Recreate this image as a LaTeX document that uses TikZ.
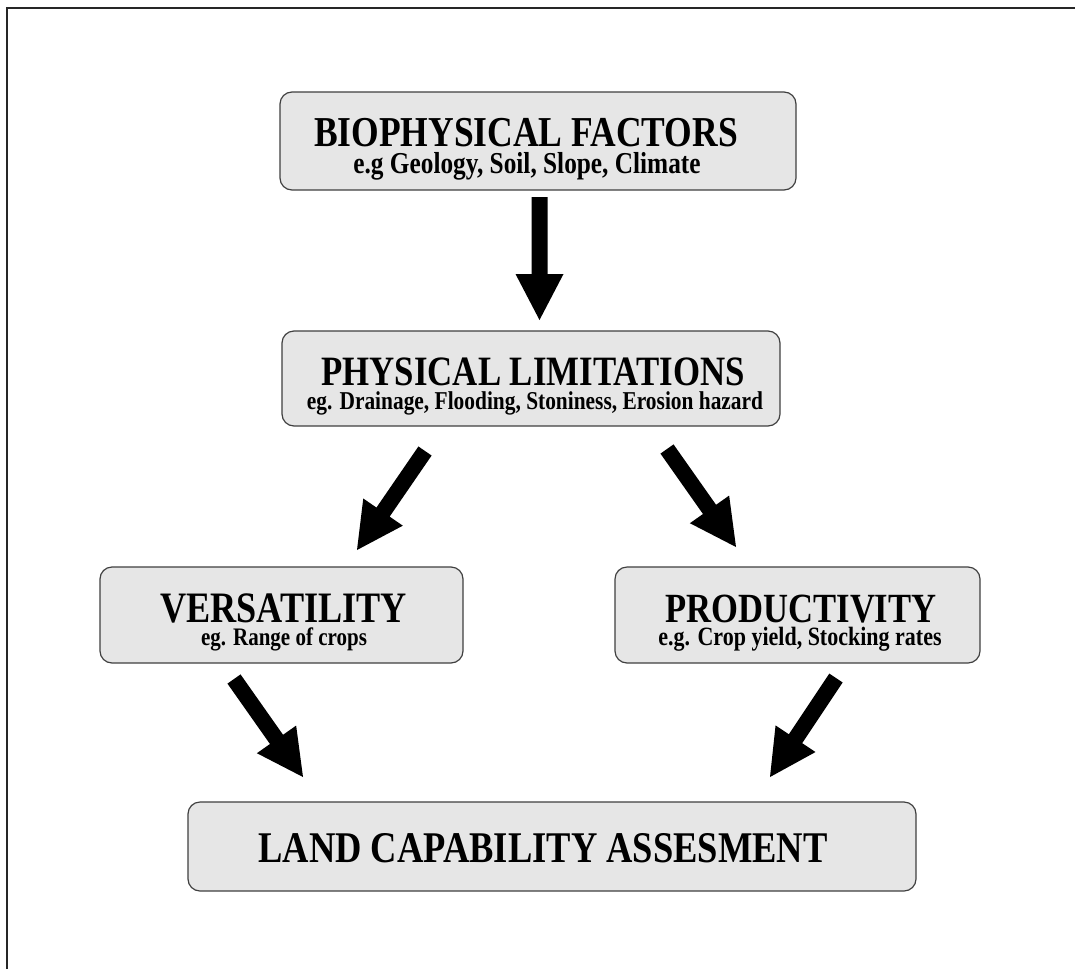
\documentclass[tikz,border=0pt]{standalone}
\usepackage{fontspec}
\setmainfont{Liberation Serif}
\usetikzlibrary{calc}
\definecolor{boxfill}{HTML}{E6E6E6}
\definecolor{boxline}{HTML}{404040}
\newcommand{\bigarrow}[2]{%
  \coordinate (ah) at ($(#2)!46pt!(#1)$);
  \fill[black] ($(#1)!8pt!90:(#2)$) -- ($(ah)!8pt!-90:(#1)$) -- ($(ah)!24pt!-90:(#1)$) -- (#2)
     -- ($(ah)!24pt!90:(#1)$) -- ($(ah)!8pt!90:(#1)$) -- ($(#1)!8pt!-90:(#2)$) -- cycle;}
\newcommand{\tl}[2]{\fontsize{#1}{#1}\selectfont\scalebox{1}[1.2]{#2}}
\begin{document}
\begin{tikzpicture}[x=1pt,y=-1pt,
  box/.style={draw=boxline,fill=boxfill,line width=1.2pt,rounded corners=12pt,inner sep=0pt},
  txt/.style={inner sep=0pt,anchor=base,font=\bfseries}]
\useasboundingbox (0,0) rectangle (1075,969);
\fill[white] (0,0) rectangle (1075,969);
\draw[line width=1.5pt,color=black!85] (7,969) -- (7,8) -- (1075,8);
% boxes
\node[box,minimum width=516pt,minimum height=98pt] (b1) at (538,141) {};
\node[box,minimum width=498pt,minimum height=95pt] (b2) at (531,378.5) {};
\node[box,minimum width=363pt,minimum height=96pt] (b3) at (281.5,615) {};
\node[box,minimum width=365pt,minimum height=96pt] (b4) at (797.5,615) {};
\node[box,minimum width=728pt,minimum height=89pt] (b5) at (552,846.5) {};
% texts
\node[txt] (t1) at (526,146) {\tl{35.5}{BIOPHYSICAL FACTORS}};
\node[txt] (s1) at (527,173) {\tl{25.3}{e.g Geology, Soil, Slope, Climate}};
\node[txt] (t2) at (533,385) {\tl{34.8}{PHYSICAL LIMITATIONS}};
\node[txt] (s2) at (535,409) {\tl{21.4}{eg. Drainage, Flooding, Stoniness, Erosion hazard}};
\node[txt] (t3) at (283.5,622) {\tl{36.2}{VERSATILITY}};
\node[txt] (s3) at (284,645) {\tl{21}{eg. Range of crops}};
\node[txt] (t4) at (801,622) {\tl{34.6}{PRODUCTIVITY}};
\node[txt] (s4) at (800,645) {\tl{22}{e.g. Crop yield, Stocking rates}};
\node[txt] (t5) at (543,862) {\tl{36.5}{LAND CAPABILITY ASSESMENT}};
% arrow end points
\coordinate (a1s) at (539.5,197);
\coordinate (a1t) at (539.5,320);
\coordinate (a2s) at (425,451);
\coordinate (a2t) at (357,550);
\coordinate (a3s) at (667,449);
\coordinate (a3t) at (736,547);
\coordinate (a4s) at (234,679);
\coordinate (a4t) at (303,777);
\coordinate (a5s) at (836,678);
\coordinate (a5t) at (770,777);
\bigarrow{a1s}{a1t}
\bigarrow{a2s}{a2t}
\bigarrow{a3s}{a3t}
\bigarrow{a4s}{a4t}
\bigarrow{a5s}{a5t}
\end{tikzpicture}
\end{document}
